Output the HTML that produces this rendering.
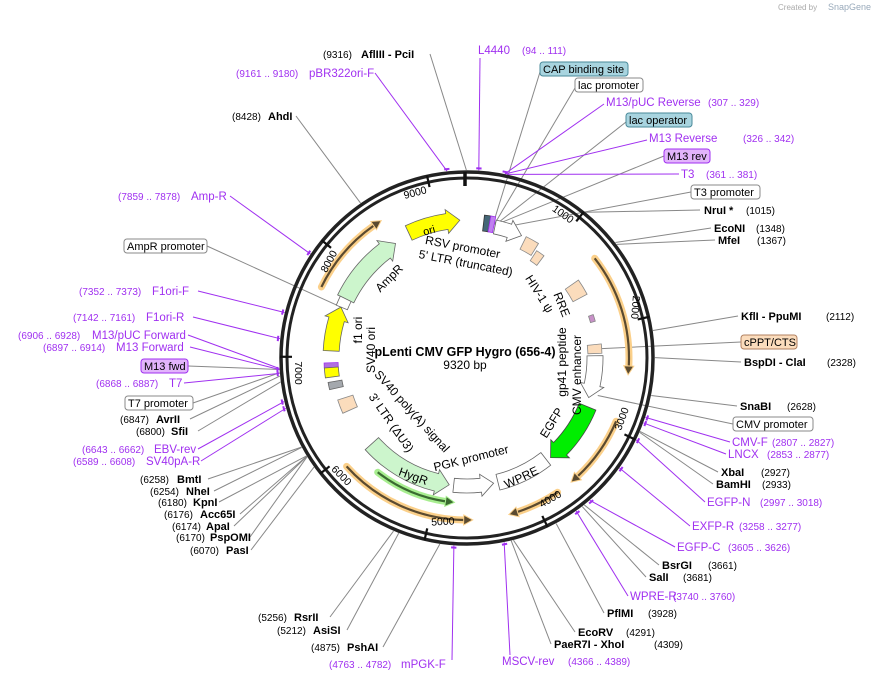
<!DOCTYPE html>
<html><head><meta charset="utf-8"><style>
html,body{margin:0;padding:0;background:#fff;}
svg{display:block;font-family:"Liberation Sans",sans-serif;}
.b{font-weight:bold;font-size:11px;fill:#000}
.n{font-size:10px;fill:#000}
.p{font-size:11.5px;fill:#a030f0}
.pn{font-size:10px;fill:#a030f0}
.l{font-size:11px;fill:#000}
.t{font-size:10.5px;fill:#000}
</style></head><body>
<svg id="s" width="875" height="682" viewBox="0 0 875 682" xmlns="http://www.w3.org/2000/svg">
<text x="778" y="10" font-size="8" fill="#aaa">Created by</text>
<text x="828" y="10" font-size="9" fill="#9ab">SnapGene</text>
<g id="lines"></g>
<g id="orf"></g>
<g id="feat"></g>
<circle cx="467" cy="358" r="186" fill="none" stroke="#222" stroke-width="3.5"/>
<circle cx="467" cy="358" r="180" fill="none" stroke="#222" stroke-width="3"/>
<g id="ticks"></g>
<g class="t">
<text transform="translate(561,217) rotate(35)" text-anchor="middle">1000</text>
<text transform="translate(632,307) rotate(95)" text-anchor="middle">2000</text>
<text transform="translate(625,420) rotate(-70)" text-anchor="middle">3000</text>
<text transform="translate(552,502) rotate(-30)" text-anchor="middle">4000</text>
<text transform="translate(443,525) rotate(-3)" text-anchor="middle">5000</text>
<text transform="translate(339,478) rotate(45)" text-anchor="middle">6000</text>
<text transform="translate(295,373) rotate(90)" text-anchor="middle">7000</text>
<text transform="translate(332,263) rotate(-62)" text-anchor="middle">8000</text>
<text transform="translate(416,196) rotate(-15)" text-anchor="middle">9000</text>
</g>
<text x="465" y="356" text-anchor="middle" font-weight="bold" font-size="12.5">pLenti CMV GFP Hygro (656-4)</text>
<text x="465" y="369" text-anchor="middle" font-size="12">9320 bp</text>
<g font-size="12" fill="#000">
<text transform="translate(430,234) rotate(-15)" text-anchor="middle" font-size="11">ori</text>
<text transform="translate(462,251) rotate(11)" text-anchor="middle">RSV promoter</text>
<text transform="translate(465,267) rotate(11)" text-anchor="middle">5' LTR (truncated)</text>
<text transform="translate(392,281) rotate(-45)" text-anchor="middle">AmpR</text>
<text transform="translate(536,296) rotate(58)" text-anchor="middle">HIV-1 ψ</text>
<text transform="translate(558,306) rotate(68)" text-anchor="middle">RRE</text>
<text transform="translate(566,362) rotate(-90)" text-anchor="middle">gp41 peptide</text>
<text transform="translate(581,375) rotate(-90)" text-anchor="middle">CMV enhancer</text>
<text transform="translate(555,425) rotate(-58)" text-anchor="middle">EGFP</text>
<text transform="translate(523,481) rotate(-25)" text-anchor="middle">WPRE</text>
<text transform="translate(472,462) rotate(-14)" text-anchor="middle">PGK promoter</text>
<text transform="translate(412,480) rotate(20)" text-anchor="middle">HygR</text>
<text transform="translate(409,414) rotate(48)" text-anchor="middle">SV40 poly(A) signal</text>
<text transform="translate(388,425) rotate(55)" text-anchor="middle">3' LTR (ΔU3)</text>
<text transform="translate(362,330) rotate(-90)" text-anchor="middle">f1 ori</text>
<text transform="translate(375,350) rotate(-90)" text-anchor="middle">SV40 ori</text>
</g>
<g>
<text class="p" x="478" y="54">L4440</text><text class="pn" x="522" y="54">(94 .. 111)</text>
<rect x="540" y="62" width="88" height="14" rx="3" fill="#a8d4df" stroke="#4a8a9a"/><text class="l" x="543" y="73">CAP binding site</text>
<rect x="575" y="78" width="68" height="14" rx="3" fill="#fff" stroke="#888"/><text class="l" x="578" y="89">lac promoter</text>
<text class="p" x="606" y="106">M13/pUC Reverse</text><text class="pn" x="708" y="106">(307 .. 329)</text>
<rect x="626" y="113" width="66" height="14" rx="3" fill="#a8d4df" stroke="#4a8a9a"/><text class="l" x="629" y="124">lac operator</text>
<text class="p" x="649" y="142">M13 Reverse</text><text class="pn" x="743" y="142">(326 .. 342)</text>
<rect x="664" y="149" width="46" height="14" rx="3" fill="#e2b4fb" stroke="#a030f0"/><text class="l" x="667" y="160">M13 rev</text>
<text class="p" x="681" y="178">T3</text><text class="pn" x="706" y="178">(361 .. 381)</text>
<rect x="691" y="185" width="69" height="14" rx="3" fill="#fff" stroke="#888"/><text class="l" x="694" y="196">T3 promoter</text>
<text class="b" x="704" y="214">NruI *</text><text class="n" x="746" y="214">(1015)</text>
<text class="b" x="714" y="232">EcoNI</text><text class="n" x="756" y="232">(1348)</text>
<text class="b" x="718" y="244">MfeI</text><text class="n" x="757" y="244">(1367)</text>
<text class="b" x="741" y="320">KflI  - PpuMI</text><text class="n" x="826" y="320">(2112)</text>
<rect x="741" y="335" width="56" height="14" rx="3" fill="#fbdcbc" stroke="#b08060"/><text class="l" x="744" y="346">cPPT/CTS</text>
<text class="b" x="744" y="366">BspDI  - ClaI</text><text class="n" x="827" y="366">(2328)</text>
<text class="b" x="740" y="410">SnaBI</text><text class="n" x="787" y="410">(2628)</text>
<rect x="733" y="417" width="80" height="14" rx="3" fill="#fff" stroke="#888"/><text class="l" x="736" y="428">CMV promoter</text>
<text class="p" x="732" y="446">CMV-F</text><text class="pn" x="772" y="446">(2807 .. 2827)</text>
<text class="p" x="728" y="458">LNCX</text><text class="pn" x="767" y="458">(2853 .. 2877)</text>
<text class="b" x="721" y="476">XbaI</text><text class="n" x="761" y="476">(2927)</text>
<text class="b" x="716" y="488">BamHI</text><text class="n" x="762" y="488">(2933)</text>
<text class="p" x="707" y="506">EGFP-N</text><text class="pn" x="760" y="506">(2997 .. 3018)</text>
<text class="p" x="692" y="530">EXFP-R</text><text class="pn" x="739" y="530">(3258 .. 3277)</text>
<text class="p" x="677" y="551">EGFP-C</text><text class="pn" x="728" y="551">(3605 .. 3626)</text>
<text class="b" x="662" y="569">BsrGI</text><text class="n" x="708" y="569">(3661)</text>
<text class="b" x="649" y="581">SalI</text><text class="n" x="683" y="581">(3681)</text>
<text class="p" x="630" y="600">WPRE-R</text><text class="pn" x="673" y="600">(3740 .. 3760)</text>
<text class="b" x="607" y="617">PflMI</text><text class="n" x="648" y="617">(3928)</text>
<text class="b" x="578" y="636">EcoRV</text><text class="n" x="626" y="636">(4291)</text>
<text class="b" x="554" y="648">PaeR7I  - XhoI</text><text class="n" x="654" y="648">(4309)</text>
<text class="p" x="502" y="665">MSCV-rev</text><text class="pn" x="568" y="665">(4366 .. 4389)</text>
</g>
<g>
<text class="pn" x="329" y="668">(4763 .. 4782)</text><text class="p" x="401" y="668">mPGK-F</text>
<text class="n" x="311" y="651">(4875)</text><text class="b" x="347" y="651">PshAI</text>
<text class="n" x="277" y="634">(5212)</text><text class="b" x="313" y="634">AsiSI</text>
<text class="n" x="258" y="621">(5256)</text><text class="b" x="294" y="621">RsrII</text>
<text class="n" x="190" y="554">(6070)</text><text class="b" x="226" y="554">PasI</text>
<text class="n" x="176" y="541">(6170)</text><text class="b" x="210" y="541">PspOMI</text>
<text class="n" x="172" y="530">(6174)</text><text class="b" x="206" y="530">ApaI</text>
<text class="n" x="164" y="518">(6176)</text><text class="b" x="200" y="518">Acc65I</text>
<text class="n" x="158" y="506">(6180)</text><text class="b" x="193" y="506">KpnI</text>
<text class="n" x="150" y="495">(6254)</text><text class="b" x="186" y="495">NheI</text>
<text class="n" x="140" y="483">(6258)</text><text class="b" x="177" y="483">BmtI</text>
<text class="pn" x="73" y="465">(6589 .. 6608)</text><text class="p" x="146" y="465">SV40pA-R</text>
<text class="pn" x="82" y="453">(6643 .. 6662)</text><text class="p" x="154" y="453">EBV-rev</text>
<text class="n" x="136" y="435">(6800)</text><text class="b" x="171" y="435">SfiI</text>
<text class="n" x="120" y="423">(6847)</text><text class="b" x="156" y="423">AvrII</text>
<rect x="125" y="396" width="68" height="14" rx="3" fill="#fff" stroke="#888"/><text class="l" x="128" y="407">T7 promoter</text>
<text class="pn" x="96" y="387">(6868 .. 6887)</text><text class="p" x="169" y="387">T7</text>
<rect x="141" y="359" width="47" height="14" rx="3" fill="#e2b4fb" stroke="#a030f0"/><text class="l" x="144" y="370">M13 fwd</text>
<text class="pn" x="43" y="351">(6897 .. 6914)</text><text class="p" x="116" y="351">M13 Forward</text>
<text class="pn" x="18" y="339">(6906 .. 6928)</text><text class="p" x="92" y="339">M13/pUC Forward</text>
<text class="pn" x="73" y="321">(7142 .. 7161)</text><text class="p" x="146" y="321">F1ori-R</text>
<text class="pn" x="79" y="295">(7352 .. 7373)</text><text class="p" x="152" y="295">F1ori-F</text>
<rect x="124" y="239" width="83" height="14" rx="3" fill="#fff" stroke="#888"/><text class="l" x="127" y="250">AmpR promoter</text>
<text class="pn" x="118" y="200">(7859 .. 7878)</text><text class="p" x="191" y="200">Amp-R</text>
<text class="n" x="232" y="120">(8428)</text><text class="b" x="268" y="120">AhdI</text>
<text class="pn" x="236" y="77">(9161 .. 9180)</text><text class="p" x="309" y="77">pBR322ori-F</text>
<text class="n" x="323" y="58">(9316)</text><text class="b" x="361" y="58">AflIII  - PciI</text>
</g>
<script>
(function(){
var NS="http://www.w3.org/2000/svg",cx=467,cy=358;
function P(a,r){a=a*Math.PI/180;return [cx+r*Math.sin(a),cy-r*Math.cos(a)];}
function f(p){return p[0].toFixed(1)+","+p[1].toFixed(1);}
function el(g,t,at){var e=document.createElementNS(NS,t);for(var k in at)e.setAttribute(k,at[k]);document.getElementById(g).appendChild(e);return e;}
function band(a1,a2,r,w,fill,stroke,dir){
 var ro=r+w/2,ri=r-w/2,h=13/r*180/Math.PI,d;
 if(dir==1){var b=a2-h,lg=(b-a1)>180?1:0;
  d="M"+f(P(a1,ro))+"A"+ro+","+ro+" 0 "+lg+" 1 "+f(P(b,ro))+"L"+f(P(b,ro+4))+"L"+f(P(a2,r))+"L"+f(P(b,ri-4))+"L"+f(P(b,ri))+"A"+ri+","+ri+" 0 "+lg+" 0 "+f(P(a1,ri))+"Z";}
 else if(dir==-1){var b=a1+h,lg=(a2-b)>180?1:0;
  d="M"+f(P(a2,ro))+"A"+ro+","+ro+" 0 "+lg+" 0 "+f(P(b,ro))+"L"+f(P(b,ro+4))+"L"+f(P(a1,r))+"L"+f(P(b,ri-4))+"L"+f(P(b,ri))+"A"+ri+","+ri+" 0 "+lg+" 1 "+f(P(a2,ri))+"Z";}
 else{var lg=(a2-a1)>180?1:0;
  d="M"+f(P(a1,ro))+"A"+ro+","+ro+" 0 "+lg+" 1 "+f(P(a2,ro))+"L"+f(P(a2,ri))+"A"+ri+","+ri+" 0 "+lg+" 0 "+f(P(a1,ri))+"Z";}
 el("feat","path",{d:d,fill:fill,stroke:stroke||"#666","stroke-width":0.8});
}
function orf(a1,a2,r,dir,glow,line){
 var h=9/r*180/Math.PI,s=dir==1?a1:a1+h,e=dir==1?a2-h:a2,lg=(e-s)>180?1:0;
 var d="M"+f(P(s,r))+"A"+r+","+r+" 0 "+lg+" 1 "+f(P(e,r));
 el("orf","path",{d:d,fill:"none",stroke:glow,"stroke-width":7,"stroke-linecap":"round"});
 el("orf","path",{d:d,fill:"none",stroke:line,"stroke-width":2.2});
 var t=dir==1?a2:a1,b=dir==1?a2-h:a1+h;
 el("orf","path",{d:"M"+f(P(t,r))+"L"+f(P(b,r+5))+"L"+f(P(b,r-5))+"Z",fill:line,stroke:glow,"stroke-width":1});
}
var Y="#ffff00",G="#ccf5cc",PE="#fbdcbc",W="#ffffff";
orf(52,96,162,1,"#fbd08a","#5a4a30");orf(113,140,162,1,"#fbd08a","#5a4a30");
orf(146,165,162,1,"#fbd08a","#5a4a30");orf(178,228,162,-1,"#fbd08a","#5a4a30");
orf(296,328,162,1,"#fbd08a","#5a4a30");orf(185,218,145,-1,"#a8ee90","#3a6a30");
band(335,357,138,16,Y,"#666",1);
band(296,328,135,18,G,"#666",1);
band(292,296,135,12,W,"#666",0);
band(273,292,136,16,Y,"#666",1);
band(266,268,136,14,"#b070e0","#a030f0",0);
band(262,266,136,14,Y,"#666",0);
band(257,260,134,14,"#a4a8ad","#666",0);
band(246,252,128,16,PE,"#888",0);
band(7,9.5,136,16,"#446677","#333",0);
band(9.5,11.5,136,16,"#c080f0","#a030f0",0);
band(12,24,134,14,W,"#666",1);
band(26,32,128,14,PE,"#888",0);
band(33,37,122,12,PE,"#888",0);
band(55,62,128,16,PE,"#888",0);
band(71,74,131,5,"#c890c8","#888",0);
band(84,88,128,14,PE,"#888",0);
band(89,108,128,16,W,"#666",1);
band(112,140,130,18,"#00ee00","#444",1);
band(142,166,128,16,W,"#666",0);
band(168,186,128,14,W,"#666",-1);
band(188,228,128,18,G,"#666",-1);
for(var i=1;i<=9;i++){var a=i*1000/9320*360;el("ticks","line",{x1:P(a,187)[0],y1:P(a,187)[1],x2:P(a,175)[0],y2:P(a,175)[1],stroke:"#111","stroke-width":2.2});}
el("ticks","line",{x1:465,y1:172,x2:465,y2:186,stroke:"#111","stroke-width":3.5});
var L=[
[480,58,3.6,188,1],[540,72,11,136,0],[575,88,11.5,136,0],[604,104,11.6,188,1],[626,122,12,136,0],[647,140,11.7,188,1],[664,156,12,136,0],[679,174,12.3,188,1],[691,192,14,134,0],
[700,210,39.2,188,0],[711,228,52.1,188,0],[715,240,52.8,188,0],[738,316,81.6,188,0],[741,342,86,135,0],[741,362,89.9,188,0],[737,406,101.5,188,0],[733,424,106,136,0],
[730,442,108.4,188,1],[726,454,110.2,188,1],[718,472,113,188,0],[713,484,113.3,188,0],[705,502,115.8,188,1],[690,526,125.8,188,1],[675,547,139.2,188,1],[659,565,141.4,188,0],[646,577,142.2,188,0],[628,596,144.5,188,1],[604,613,151.7,188,0],[575,632,165.7,188,0],[551,644,166.4,188,0],[510,655,168.6,188,1],
[452,660,184,188,1],[383,647,188.3,188,0],[347,630,201.3,188,0],[330,617,203,188,0],
[251,550,234.5,188,0],[250,537,238.3,188,0],[234,526,238.4,188,0],[240,514,238.5,188,0],[219,502,238.6,188,0],[214,491,241.6,188,0],[208,479,241.7,188,0],
[201,461,254.5,188,1],[198,449,256.6,188,1],[198,431,262.7,188,0],[190,419,264.5,188,0],[193,403,265.5,188,0],[184,383,265.3,188,1],[188,366,266.5,188,0],[190,347,266.5,188,1],[188,335,266.8,188,1],[193,317,275.9,188,1],[198,291,284,188,1],[207,246,292,135,0],[230,196,303.6,188,1],[296,116,325.5,188,0],[375,73,353.9,188,1],[430,54,359.8,188,0]];
L.forEach(function(l){var p=P(l[2],l[3]);el("lines","line",{x1:l[0],y1:l[1],x2:p[0],y2:p[1],stroke:l[4]?"#a030f0":"#888","stroke-width":1});});
[[3.6],[353.9],[11.6],[108.4],[110.2],[115.8],[125.8],[139.2],[144.5],[168.6],[184],[254.5],[256.6],[266.5],[265.3],[275.9],[284],[303.6]].forEach(function(m){var a=m[0],p1=P(a-0.8,190),p2=P(a+0.8,190);el("lines","line",{x1:p1[0],y1:p1[1],x2:p2[0],y2:p2[1],stroke:"#a030f0","stroke-width":2});});
})();
</script>
</svg>
</body></html>
